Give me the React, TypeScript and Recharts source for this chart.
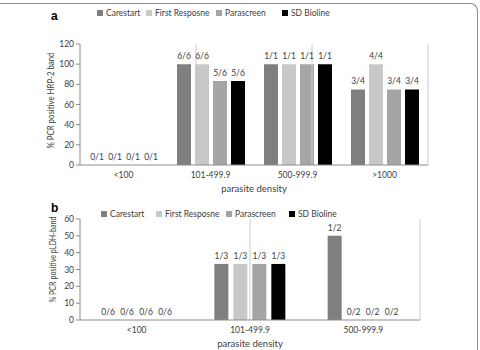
import React from "react";
import {
  BarChart,
  Bar,
  XAxis,
  YAxis,
  Legend,
  ReferenceLine,
  LabelList,
} from "recharts";

const SERIES = ["Carestart", "First Resposne", "Parascreen", "SD Bioline"];
const COLORS = ["#7f7f7f", "#c8c8c8", "#a5a5a5", "#000000"];

// panel a: HRP-2 band
const CATS_A = ["<100", "101-499.9", "500-999.9", ">1000"];
const VALUES_A = [
  [0, 100, 100, 75],
  [0, 100, 100, 100],
  [0, 83.3, 100, 75],
  [0, 83.3, 100, 75],
];
const LABELS_A = [
  ["0/1", "6/6", "1/1", "3/4"],
  ["0/1", "6/6", "1/1", "4/4"],
  ["0/1", "5/6", "1/1", "3/4"],
  ["0/1", "5/6", "1/1", "3/4"],
];
const TICKS_A = [0, 20, 40, 60, 80, 100, 120];

// panel b: pLDH band
const CATS_B = ["<100", "101-499.9", "500-999.9"];
const VALUES_B = [
  [0, 33.3, 50],
  [0, 33.3, 0],
  [0, 33.3, 0],
  [0, 33.3, 0],
];
const LABELS_B = [
  ["0/6", "1/3", "1/2"],
  ["0/6", "1/3", "0/2"],
  ["0/6", "1/3", "0/2"],
  ["0/6", "1/3", "0/2"],
];
const TICKS_B = [0, 10, 20, 30, 40, 50, 60];

const FONT = "Lato, 'Liberation Sans', sans-serif";
const TEXT = "#404040";

function buildRows(cats: string[], values: number[][], labels: string[][]) {
  return cats.map((c, i) => {
    const row: Record<string, string | number> = { cat: c };
    SERIES.forEach((_s, k) => {
      row["v" + k] = values[k][i];
      row["l" + k] = labels[k][i];
    });
    return row;
  });
}

const legendContent = (widths: number[]) => (props: any) => (
  <div style={{ display: "flex", fontSize: 8.5, color: TEXT, fontFamily: FONT, whiteSpace: "nowrap" }}>
    {(props.payload || []).map((e: any, i: number) => (
      <div key={i} style={{ width: widths[i], flex: "none", display: "flex", alignItems: "center" }}>
        <span
          style={{ width: 6, height: 6, background: e.color, marginRight: 3, display: "inline-block" }}
        />
        {e.value}
      </div>
    ))}
  </div>
);

// rotated axis title, squeezed to the narrow width of the original typeface
const yLabel = (text: string, x: number, dy: number, len: number, size: number) => (props: any) => {
  const vb = props.viewBox;
  const cy = vb.y + vb.height / 2 + dy;
  return (
    <text
      x={x}
      y={cy}
      transform={`rotate(-90, ${x}, ${cy})`}
      textAnchor="middle"
      dominantBaseline="central"
      fontSize={size}
      fill={TEXT}
      fontFamily={FONT}
      textLength={len}
      lengthAdjust="spacingAndGlyphs"
    >
      {text}
    </text>
  );
};

interface PanelProps {
  cats: string[];
  values: number[][];
  labels: string[][];
  ticks: number[];
  width: number;
  height: number;
  marginTop: number;
  marginRight: number;
  barGap: number;
  legendTop: number;
  legendLeft: number;
  legendWidths: number[];
  yTitle: string;
  yTitleX: number;
  yTitleDy: number;
  yTitleLen: number;
  yTitleSize: number;
}

function Panel(p: PanelProps) {
  const rows = buildRows(p.cats, p.values, p.labels);
  const n = p.cats.length;
  const seps = Array.from({ length: n }, (_x, i) => i + 1);
  return (
    <BarChart
      width={p.width}
      height={p.height}
      data={rows}
      margin={{ top: p.marginTop, right: p.marginRight, left: 0, bottom: 0 }}
      barGap={p.barGap}
      style={{ fontFamily: FONT }}
    >
      <XAxis
        dataKey="cat"
        height={30}
        tickLine={false}
        tickMargin={1}
        axisLine={{ stroke: "#8c8c8c" }}
        tick={{ fontSize: 8.5, fill: TEXT }}
        label={{ value: "parasite density", position: "insideBottom", offset: 3, fontSize: 9.5, fill: TEXT }}
      />
      <XAxis xAxisId="sep" type="number" domain={[0, n]} hide />
      <YAxis
        width={80}
        domain={[0, p.ticks[p.ticks.length - 1]]}
        ticks={p.ticks}
        tickSize={4}
        tickMargin={2}
        axisLine={{ stroke: "#8c8c8c" }}
        tickLine={{ stroke: "#8c8c8c" }}
        tick={{ fontSize: 8.5, fill: TEXT }}
        label={{ content: yLabel(p.yTitle, p.yTitleX, p.yTitleDy, p.yTitleLen, p.yTitleSize) }}
      />
      {seps.map((s) => (
        <ReferenceLine key={s} xAxisId="sep" x={s} stroke="#cccccc" strokeWidth={1} />
      ))}
      <Legend
        layout="horizontal"
        verticalAlign="middle"
        align="center"
        content={legendContent(p.legendWidths)}
        wrapperStyle={{ position: "absolute", top: p.legendTop, left: p.legendLeft, width: 340 }}
      />
      {SERIES.map((s, k) => (
        <Bar
          key={s}
          dataKey={"v" + k}
          name={s}
          fill={COLORS[k]}
          barSize={14}
          minPointSize={0.01}
          isAnimationActive={false}
        >
          <LabelList dataKey={"l" + k} position="top" offset={5} style={{ fontSize: 8.5, fill: TEXT }} />
        </Bar>
      ))}
    </BarChart>
  );
}

export default function App() {
  return (
    <div
      style={{
        position: "absolute",
        left: 0,
        top: 0,
        width: 480,
        height: 350,
        background: "#fff",
        overflow: "hidden",
      }}
    >
      <div
        style={{
          position: "absolute",
          left: 0,
          top: 3,
          width: 477,
          height: 346,
          borderTop: "1px solid #8c8c8c",
          borderRight: "1px solid #8c8c8c",
          borderTopRightRadius: 8,
        }}
      />
      <div style={{ position: "absolute", left: 0, top: 0 }}>
        <Panel
          cats={CATS_A}
          values={VALUES_A}
          labels={LABELS_A}
          ticks={TICKS_A}
          width={480}
          height={195}
          marginTop={44}
          marginRight={52}
          barGap={4}
          legendTop={8}
          legendLeft={97}
          legendWidths={[49, 70, 66, 60]}
          yTitle="% PCR positive HRP-2 band"
          yTitleX={50}
          yTitleDy={-4}
          yTitleLen={96}
          yTitleSize={9}
        />
      </div>
      <div style={{ position: "absolute", left: 0, top: 195 }}>
        <Panel
          cats={CATS_B}
          values={VALUES_B}
          labels={LABELS_B}
          ticks={TICKS_B}
          width={480}
          height={155}
          marginTop={24}
          marginRight={60}
          barGap={5}
          legendTop={14}
          legendLeft={101}
          legendWidths={[55, 70, 63, 60]}
          yTitle="% PCR positive pLDH-band"
          yTitleX={53}
          yTitleDy={-10}
          yTitleLen={86}
          yTitleSize={8.5}
        />
      </div>
      <div
        style={{
          position: "absolute",
          left: 51,
          top: 9,
          fontFamily: "'Liberation Sans', Arial, sans-serif",
          fontWeight: "bold",
          fontSize: 12,
        }}
      >
        a
      </div>
      <div
        style={{
          position: "absolute",
          left: 51,
          top: 201,
          fontFamily: "'Liberation Sans', Arial, sans-serif",
          fontWeight: "bold",
          fontSize: 12,
        }}
      >
        b
      </div>
    </div>
  );
}
